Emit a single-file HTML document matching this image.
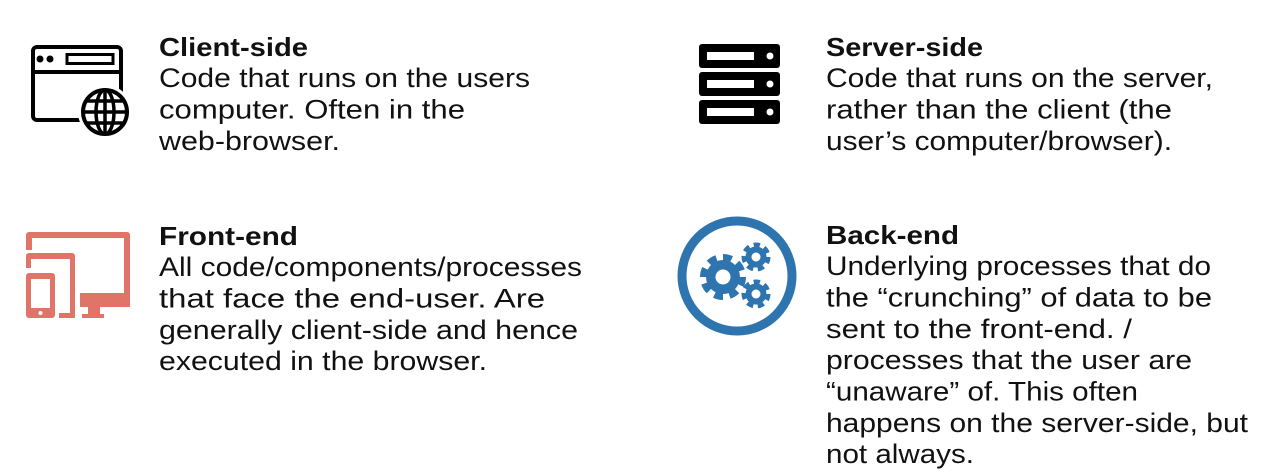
<!DOCTYPE html>
<html><head><meta charset="utf-8"><style>
html,body{margin:0;padding:0;background:#fff;width:1266px;height:476px;overflow:hidden}
text{font-family:"Liberation Sans",sans-serif;fill:#111;font-size:27px}
.t{font-weight:bold;font-size:26px}
</style></head><body>
<svg width="1266" height="476" viewBox="0 0 1266 476" xmlns="http://www.w3.org/2000/svg">
<!-- browser icon -->
<rect x="33" y="47" width="88" height="73" rx="4" fill="none" stroke="#000" stroke-width="4"/>
<line x1="33" y1="72" x2="121" y2="72" stroke="#000" stroke-width="4"/>
<circle cx="40" cy="59" r="3.5"/><circle cx="50" cy="59" r="3.5"/>
<rect x="67" y="54.5" width="46" height="9" fill="none" stroke="#000" stroke-width="3"/>
<circle cx="105" cy="112" r="27" fill="#fff"/>
<circle cx="105" cy="112" r="22" fill="none" stroke="#000" stroke-width="4"/>
<ellipse cx="105" cy="112" rx="9" ry="22" fill="none" stroke="#000" stroke-width="3.5"/>
<line x1="105" y1="90" x2="105" y2="134" stroke="#000" stroke-width="3.5"/>
<line x1="83" y1="112" x2="127" y2="112" stroke="#000" stroke-width="3.5"/>
<line x1="87" y1="101" x2="123" y2="101" stroke="#000" stroke-width="3.5"/>
<line x1="87" y1="123" x2="123" y2="123" stroke="#000" stroke-width="3.5"/>
<!-- devices icon -->
<g fill="#e07468">
<path d="M29 232 H127 a3 3 0 0 1 3 3 V307 H80 V293 H124 V238 H32 V250 H26 V235 a3 3 0 0 1 3-3z"/>
<rect x="88" y="305" width="12" height="11"/>
<rect x="82" y="314" width="22" height="4"/>
<path d="M29 253 H72 a3 3 0 0 1 3 3 V318 H59 V313 H70 V259 H31 V268 H26 V256 a3 3 0 0 1 3-3z"/>
<path d="M29 273 H52 a3 3 0 0 1 3 3 V315 a3 3 0 0 1 -3 3 H29 a3 3 0 0 1 -3-3 V276 a3 3 0 0 1 3-3z M31 279 V308 H50 V279z"/>
</g>
<circle cx="40.5" cy="313" r="2" fill="#fff"/>
<!-- server icon -->
<g>
<rect x="699" y="44" width="81" height="24" rx="3"/>
<rect x="699" y="72" width="81" height="24" rx="3"/>
<rect x="699" y="100" width="81" height="24" rx="3"/>
<g fill="#fff">
<rect x="707" y="52" width="47" height="8"/><rect x="707" y="80" width="47" height="8"/><rect x="707" y="108" width="47" height="8"/>
<circle cx="770" cy="56" r="3.5"/><circle cx="770" cy="84" r="3.5"/><circle cx="770" cy="112" r="3.5"/>
</g>
</g>
<!-- gears icon -->
<circle cx="737" cy="276" r="55" fill="none" stroke="#2e75b0" stroke-width="9"/>
<g fill="#2e75b0" stroke="#2e75b0">
<circle cx="723" cy="277" r="17" stroke="none"/>
<circle cx="723" cy="277" r="19" fill="none" stroke-width="8" stroke-dasharray="8.5 6.4"/>
<circle cx="756" cy="257" r="10.5" stroke="none"/>
<circle cx="756" cy="257" r="12" fill="none" stroke-width="5" stroke-dasharray="6.2 4.57"/>
<circle cx="756" cy="294" r="10.5" stroke="none"/>
<circle cx="756" cy="294" r="12" fill="none" stroke-width="5" stroke-dasharray="6.2 4.57"/>
</g>
<circle cx="723" cy="277" r="7.5" fill="#fff"/>
<circle cx="756" cy="257" r="4.5" fill="#fff"/>
<circle cx="756" cy="294" r="4.5" fill="#fff"/>
<!-- texts -->
<text class="t" x="159" y="56" textLength="149" lengthAdjust="spacingAndGlyphs">Client-side</text>
<text x="159" y="87" textLength="371" lengthAdjust="spacingAndGlyphs">Code that runs on the users</text>
<text x="159" y="118.5" textLength="306" lengthAdjust="spacingAndGlyphs">computer. Often in the</text>
<text x="159" y="150" textLength="181" lengthAdjust="spacingAndGlyphs">web-browser.</text>
<text class="t" x="159" y="245" textLength="139" lengthAdjust="spacingAndGlyphs">Front-end</text>
<text x="159" y="276" textLength="423" lengthAdjust="spacingAndGlyphs">All code/components/processes</text>
<text x="159" y="307.5" textLength="386" lengthAdjust="spacingAndGlyphs">that face the end-user. Are</text>
<text x="159" y="339" textLength="419" lengthAdjust="spacingAndGlyphs">generally client-side and hence</text>
<text x="159" y="370" textLength="328" lengthAdjust="spacingAndGlyphs">executed in the browser.</text>
<text class="t" x="826" y="56" textLength="157" lengthAdjust="spacingAndGlyphs">Server-side</text>
<text x="826" y="87" textLength="387" lengthAdjust="spacingAndGlyphs">Code that runs on the server,</text>
<text x="826" y="118.5" textLength="346" lengthAdjust="spacingAndGlyphs">rather than the client (the</text>
<text x="826" y="150" textLength="346" lengthAdjust="spacingAndGlyphs">user’s computer/browser).</text>
<text class="t" x="826" y="244" textLength="133" lengthAdjust="spacingAndGlyphs">Back-end</text>
<text x="826" y="275" textLength="385" lengthAdjust="spacingAndGlyphs">Underlying processes that do</text>
<text x="826" y="306.5" textLength="386" lengthAdjust="spacingAndGlyphs">the “crunching” of data to be</text>
<text x="826" y="338" textLength="306" lengthAdjust="spacingAndGlyphs">sent to the front-end. /</text>
<text x="826" y="369" textLength="366" lengthAdjust="spacingAndGlyphs">processes that the user are</text>
<text x="826" y="400.5" textLength="312" lengthAdjust="spacingAndGlyphs">“unaware” of. This often</text>
<text x="826" y="432" textLength="422" lengthAdjust="spacingAndGlyphs">happens on the server-side, but</text>
<text x="826" y="463" textLength="148" lengthAdjust="spacingAndGlyphs">not always.</text>
</svg>
</body></html>
